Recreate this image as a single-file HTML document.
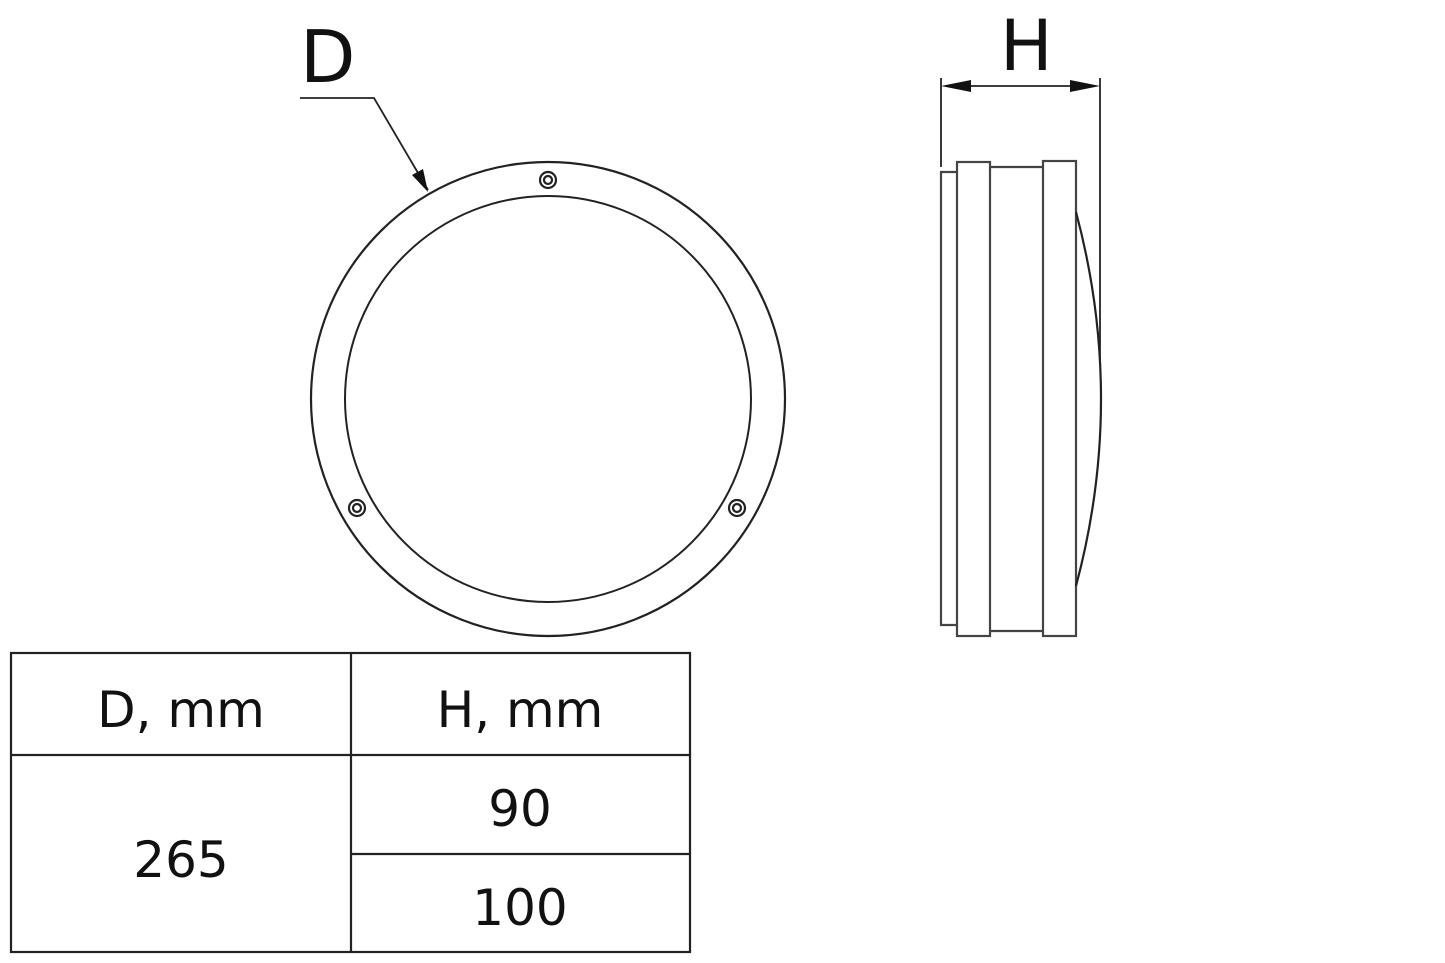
<!DOCTYPE html>
<html><head><style>
body{margin:0;background:#fff;}
svg{display:block}
text{font-family:"DejaVu Sans","Liberation Sans",sans-serif;fill:#111}
</style></head><body>
<svg width="1445" height="963" viewBox="0 0 1445 963" xmlns="http://www.w3.org/2000/svg">
<g fill="none" stroke="#222" stroke-width="2.2">
<circle cx="548" cy="399" r="237"/>
<circle cx="548" cy="399" r="203" stroke-width="2"/>
<circle cx="548" cy="180" r="8"/><circle cx="548" cy="180" r="4"/>
<circle cx="357" cy="508" r="8"/><circle cx="357" cy="508" r="4"/>
<circle cx="737" cy="508" r="8"/><circle cx="737" cy="508" r="4"/>
<polyline points="300,98 374,98 428,190" stroke-width="1.8"/>
</g>
<polygon points="428,192 412,175 423,169" fill="#111"/>
<text x="300" y="82" font-size="72">D</text>
<g fill="none" stroke="#444" stroke-width="2.2">
<polyline points="957,172 941,172 941,625 957,625"/>
<rect x="957" y="162" width="33" height="474"/>
<line x1="990" y1="167" x2="1043" y2="167"/>
<line x1="990" y1="631" x2="1043" y2="631"/>
<rect x="1043" y="161" width="33" height="475"/>
<path d="M1076,212 Q1126,399 1076,586" stroke="#222"/>
</g>
<g stroke="#222" stroke-width="1.8">
<line x1="941" y1="78" x2="941" y2="167"/>
<line x1="1100" y1="78" x2="1100" y2="365"/>
<line x1="960" y1="86" x2="1080" y2="86"/>
</g>
<polygon points="941,86 971,80 971,92" fill="#111"/>
<polygon points="1100,86 1070,80 1070,92" fill="#111"/>
<text x="1000" y="70" font-size="70">H</text>
<g stroke="#222" stroke-width="2.2" fill="none">
<rect x="11" y="653" width="679" height="299"/>
<line x1="351" y1="653" x2="351" y2="952"/>
<line x1="11" y1="755" x2="690" y2="755"/>
<line x1="351" y1="854" x2="690" y2="854"/>
</g>
<g font-size="50" text-anchor="middle">
<text x="181" y="727">D, mm</text>
<text x="520" y="727">H, mm</text>
<text x="181" y="877">265</text>
<text x="520" y="826">90</text>
<text x="520" y="925">100</text>
</g>
</svg>
</body></html>
